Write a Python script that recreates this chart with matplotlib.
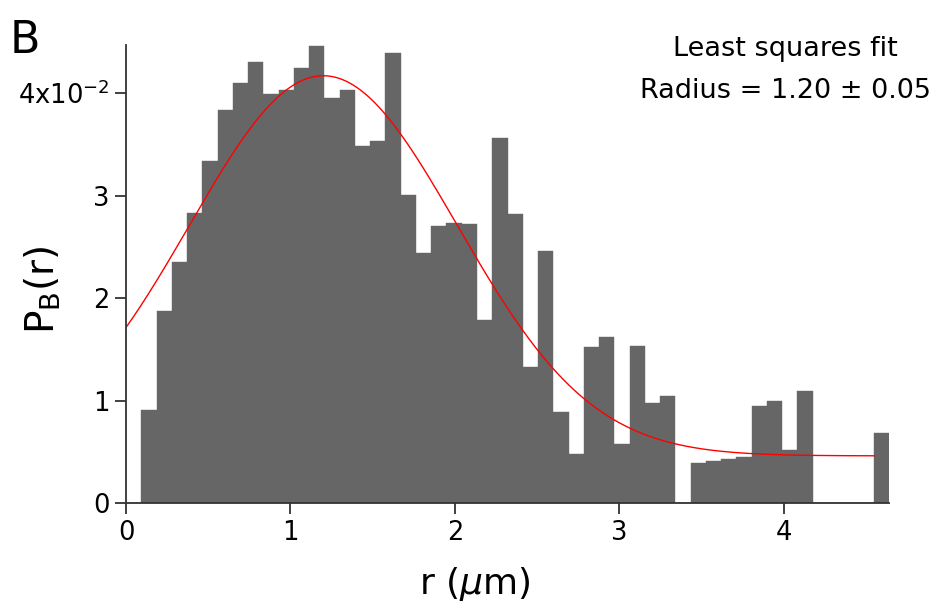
import numpy as np
import matplotlib
matplotlib.use("Agg")
from matplotlib import pyplot as plt

plt.rcParams["font.family"] = ["DejaVu Sans"]
plt.rcParams["mathtext.default"] = "regular"

# histogram of radii, 50 bins from 0 to 4.64 um
bin_start = 0.0
bin_width = 0.0928
heights = [
    0.0, 0.0091, 0.0187, 0.0235, 0.0283, 0.0334, 0.0384, 0.0410, 0.0430, 0.0399,
    0.0403, 0.0425, 0.0446, 0.0395, 0.0403, 0.0348, 0.0353, 0.0439, 0.0301, 0.0244,
    0.0270, 0.0273, 0.0272, 0.0179, 0.0356, 0.0282, 0.0133, 0.0246, 0.0089, 0.0048,
    0.0152, 0.0162, 0.0058, 0.0153, 0.0098, 0.0104, 0.0, 0.0039, 0.0041, 0.0043,
    0.0045, 0.0095, 0.0100, 0.0052, 0.0109, 0.0, 0.0, 0.0, 0.0, 0.0068,
]

# gaussian least squares fit: y0 + A*exp(-((r - r0)/w)^2)
fit_y0 = 0.0046
fit_A = 0.0371
fit_r0 = 1.20
fit_w = 1.152
fit_rmax = 4.55

ytick_vals = [0.0, 0.01, 0.02, 0.03, 0.04]
ytick_labels = ["0", "1", "2", "3", "4x10$^{-2}$"]
xtick_vals = [0, 1, 2, 3, 4]

edges = bin_start + bin_width * np.arange(len(heights))

fig = plt.figure(figsize=(9.42, 6.04), dpi=100)
ax = fig.add_axes([0.1338, 0.1672, 0.8099, 0.7583])

ax.bar(edges, heights, width=bin_width, align="edge", color="#666666",
       edgecolor="#666666", linewidth=0.3)

r = np.linspace(0, fit_rmax, 400)
fit = fit_y0 + fit_A * np.exp(-((r - fit_r0) / fit_w) ** 2)
ax.plot(r, fit, color="red", linewidth=1.0)

ax.set_xlim(0, 4.64)
ax.set_ylim(0, 0.0447)

for side in ("top", "right"):
    ax.spines[side].set_visible(False)
for side in ("left", "bottom"):
    ax.spines[side].set_linewidth(1.3)
    ax.spines[side].set_color("#333333")

ax.set_yticks(ytick_vals)
ax.set_yticklabels(ytick_labels)
ax.set_xticks(xtick_vals)
ax.tick_params(axis="both", direction="out", length=8, width=1.3,
               color="#333333", labelsize=18.5, pad=4)

ax.set_xlabel(r"r ($\mathit{\mu}$m)", fontsize=26)
ax.xaxis.set_label_coords(0.457, -0.135)
ax.set_ylabel("P$_B$(r)", fontsize=28)
ax.yaxis.set_label_coords(-0.082, 0.465)

fig.text(0.010, 0.912, "B", fontsize=32)
fig.text(0.834, 0.907, "Least squares fit", fontsize=19.5, ha="center")
fig.text(0.834, 0.838, "Radius = 1.20 \u00b1 0.05", fontsize=19.5, ha="center")

plt.savefig("out.png", dpi=100)
